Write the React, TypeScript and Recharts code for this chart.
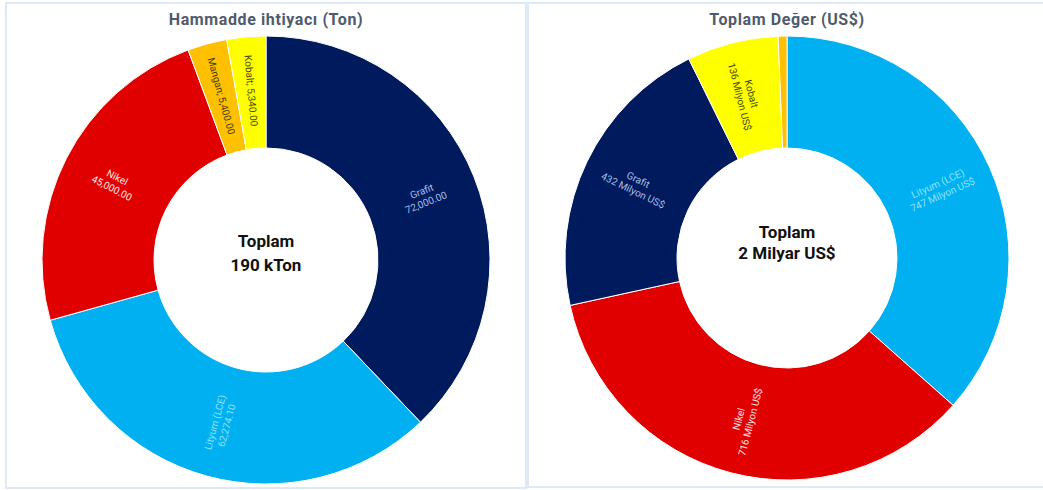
import React from 'react';
import { PieChart, Pie, Cell, Label } from 'recharts';

// Left chart: raw material requirement (tons)
const leftCategories = ['Grafit', 'Lityum (LCE)', 'Nikel', 'Mangan', 'Kobalt'];
const leftValues = [72000, 62274.1, 45000, 5400, 5340];
const leftValueLabels = ['72,000.00', '62,274.10', '45,000.00', '5,400.00', '5,340.00'];

// Right chart: total value (million US$)
const rightCategories = ['Lityum (LCE)', 'Nikel', 'Grafit', 'Kobalt', 'Mangan'];
const rightValues = [747, 716, 432, 136, 13];
const rightValueLabels = ['747 Milyon US$', '716 Milyon US$', '432 Milyon US$', '136 Milyon US$', '13 Milyon US$'];

const leftTitle = 'Hammadde ihtiyacı (Ton)';
const rightTitle = 'Toplam Değer (US$)';
const leftCenter = ['Toplam', '190 kTon'];
const rightCenter = ['Toplam', '2 Milyar US$'];

const sliceColors: Record<string, string> = {
  'Grafit': '#001A5E',
  'Lityum (LCE)': '#00B0F0',
  'Nikel': '#E00000',
  'Mangan': '#FFC000',
  'Kobalt': '#FFFF00',
};
const labelColors: Record<string, string> = {
  'Grafit': '#a9bde6',
  'Lityum (LCE)': '#8ee3ff',
  'Nikel': '#ffe0e0',
  'Mangan': '#4a3a00',
  'Kobalt': '#4a4a00',
};

const FONT = 'Roboto, "Noto Sans", sans-serif';
const RAD = Math.PI / 180;

const buildData = (cats: string[], vals: number[], labels: string[]) =>
  cats.map((c, i) => ({ name: c, value: vals[i], text: labels[i] }));

const leftData = buildData(leftCategories, leftValues, leftValueLabels);
const rightData = buildData(rightCategories, rightValues, rightValueLabels);

const renderSliceLabel = (props: any) => {
  const { cx, cy, innerRadius, outerRadius, startAngle, endAngle, payload } = props;
  const span = Math.abs(endAngle - startAngle);
  if (span < 4) return null;
  const mid = (startAngle + endAngle) / 2; // degrees, ccw from 3 o'clock
  const r = (innerRadius + outerRadius) / 2 + 2;
  const x = cx + r * Math.cos(mid * RAD);
  const y = cy - r * Math.sin(mid * RAD);
  const theta = (((90 - mid) % 360) + 360) % 360; // clockwise from top
  const rot = theta <= 180 ? theta - 90 : theta - 270;
  const name = payload?.name ?? props.name;
  const text = payload?.text ?? props.text;
  const color = labelColors[name] || '#fff';
  const single = span < 15;
  return (
    <text
      x={x}
      y={y}
      transform={`rotate(${rot}, ${x}, ${y})`}
      textAnchor="middle"
      fill={color}
      fontFamily={FONT}
      fontSize={10}
    >
      {single ? (
        <tspan x={x} dy="0.35em">{`${name}; ${text}`}</tspan>
      ) : (
        <>
          <tspan x={x} dy="-0.25em">{name}</tspan>
          <tspan x={x} dy="1.2em">{text}</tspan>
        </>
      )}
    </text>
  );
};

const centerContent = (lines: string[], cx: number, cy: number, offsets: number[]) => () => (
  <text textAnchor="middle" fontFamily={FONT} fontWeight={700} fontSize={17} fill="#111">
    <tspan x={cx} y={cy + offsets[0]} dominantBaseline="central">{lines[0]}</tspan>
    <tspan x={cx} y={cy + offsets[1]} dominantBaseline="central">{lines[1]}</tspan>
  </text>
);

const panelStyle = (left: number, width: number, height: number): React.CSSProperties => ({
  position: 'absolute',
  left,
  top: 2,
  width,
  height,
  border: '2px solid #dde9f7',
  boxSizing: 'border-box',
});

const titleStyle = (centerX: number): React.CSSProperties => ({
  position: 'absolute',
  left: centerX - 150,
  width: 300,
  top: 10,
  textAlign: 'center',
  fontFamily: FONT,
  fontWeight: 700,
  fontSize: 16,
  letterSpacing: 0.6,
  color: '#4f5b6c',
  lineHeight: '20px',
});

const LCX = 266;
const LCY = 260;
const RCX = 267;
const RCY = 258;

export default function App() {
  return (
    <div style={{ position: 'absolute', left: 0, top: 0, width: 1043, height: 490, background: '#fff', overflow: 'hidden' }}>
      <div style={panelStyle(5, 522, 487)} />
      <div style={panelStyle(527, 530, 486)} />
      <div style={titleStyle(266)}>{leftTitle}</div>
      <div style={titleStyle(787)}>{rightTitle}</div>
      <div style={{ position: 'absolute', left: 0, top: 0 }}>
        <PieChart width={520} height={490} margin={{ top: 0, right: 0, bottom: 0, left: 0 }}>
          <Pie
            data={leftData}
            dataKey="value"
            nameKey="name"
            cx={LCX}
            cy={LCY}
            innerRadius={112}
            outerRadius={224}
            startAngle={90}
            endAngle={-270}
            stroke="#ffffff"
            strokeWidth={1}
            label={renderSliceLabel}
            labelLine={false}
            isAnimationActive={false}
          >
            {leftData.map((d) => (
              <Cell key={d.name} fill={sliceColors[d.name]} />
            ))}
            <Label position="center" content={centerContent(leftCenter, LCX, LCY, [-19, 5])} />
          </Pie>
        </PieChart>
      </div>
      <div style={{ position: 'absolute', left: 520, top: 0 }}>
        <PieChart width={523} height={490} margin={{ top: 0, right: 0, bottom: 0, left: 0 }}>
          <Pie
            data={rightData}
            dataKey="value"
            nameKey="name"
            cx={RCX}
            cy={RCY}
            innerRadius={110}
            outerRadius={222}
            startAngle={90}
            endAngle={-270}
            stroke="#ffffff"
            strokeWidth={1}
            label={renderSliceLabel}
            labelLine={false}
            isAnimationActive={false}
          >
            {rightData.map((d) => (
              <Cell key={d.name} fill={sliceColors[d.name]} />
            ))}
            <Label position="center" content={centerContent(rightCenter, RCX, RCY, [-26, -5])} />
          </Pie>
        </PieChart>
      </div>
    </div>
  );
}
